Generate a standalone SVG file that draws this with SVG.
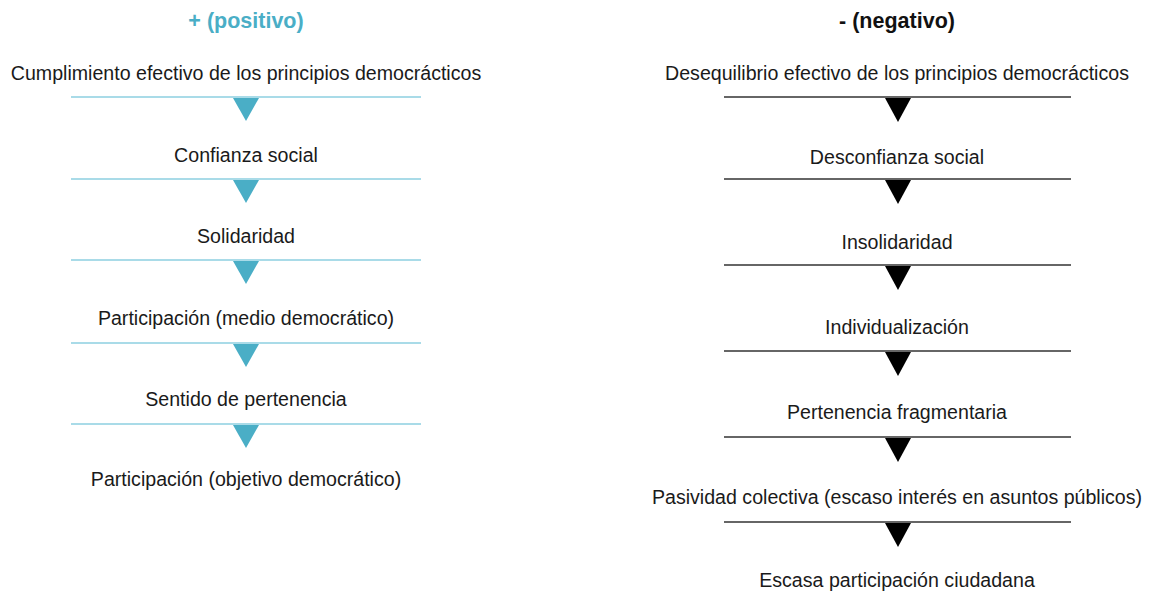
<svg xmlns="http://www.w3.org/2000/svg" width="1154" height="594" viewBox="0 0 1154 594">
<style>
text{font-family:"Liberation Sans",Arial,sans-serif;font-size:19.6px;fill:#1a1a1a;text-anchor:middle}
.hp{font-weight:bold;font-size:21.5px;fill:#4aaec6}
.hn{font-weight:bold;font-size:21.5px;fill:#111}
.lp{stroke:#8ccfe0;stroke-width:1.5}
.ln{stroke:#333;stroke-width:1.5}
.tp{fill:#4aaec6}
.tn{fill:#000}
</style>
<rect width="1154" height="594" fill="#fff"/>
<g id="headings">
<text class="hp" x="246" y="28">+ (positivo)</text>
<text class="hn" x="897" y="28">- (negativo)</text>
</g>
<g id="p1"><text x="246" y="80">Cumplimiento efectivo de los principios democrácticos</text></g>
<g id="p2"><text x="246" y="162">Confianza social</text></g>
<g id="p3"><text x="246" y="243">Solidaridad</text></g>
<g id="p4"><text x="246" y="325">Participación (medio democrático)</text></g>
<g id="p5"><text x="246" y="406">Sentido de pertenencia</text></g>
<g id="p6"><text x="246" y="486">Participación (objetivo democrático)</text></g>
<g id="n1"><text x="897" y="80">Desequilibrio efectivo de los principios democrácticos</text></g>
<g id="n2"><text x="897" y="164">Desconfianza social</text></g>
<g id="n3"><text x="897" y="249">Insolidaridad</text></g>
<g id="n4"><text x="897" y="334">Individualización</text></g>
<g id="n5"><text x="897" y="419">Pertenencia fragmentaria</text></g>
<g id="n6"><text x="897" y="504">Pasividad colectiva (escaso interés en asuntos públicos)</text></g>
<g id="n7"><text x="897" y="587">Escasa participación ciudadana</text></g>
<g id="connectors">
<line class="lp" x1="71" y1="97" x2="421" y2="97"/>
<line class="lp" x1="71" y1="179" x2="421" y2="179"/>
<line class="lp" x1="71" y1="260" x2="421" y2="260"/>
<line class="lp" x1="71" y1="343" x2="421" y2="343"/>
<line class="lp" x1="71" y1="424" x2="421" y2="424"/>
<polygon class="tp" points="233,98 259,98 246,121"/>
<polygon class="tp" points="233,180 259,180 246,203"/>
<polygon class="tp" points="233,261 259,261 246,284"/>
<polygon class="tp" points="233,344 259,344 246,367"/>
<polygon class="tp" points="233,425 259,425 246,448"/>
<line class="ln" x1="724" y1="97" x2="1071" y2="97"/>
<line class="ln" x1="724" y1="179" x2="1071" y2="179"/>
<line class="ln" x1="724" y1="265" x2="1071" y2="265"/>
<line class="ln" x1="724" y1="351" x2="1071" y2="351"/>
<line class="ln" x1="724" y1="437" x2="1071" y2="437"/>
<line class="ln" x1="724" y1="522" x2="1071" y2="522"/>
<polygon class="tn" points="885,98 911,98 898,122"/>
<polygon class="tn" points="885,180 911,180 898,204"/>
<polygon class="tn" points="885,266 911,266 898,290"/>
<polygon class="tn" points="885,352 911,352 898,376"/>
<polygon class="tn" points="885,438 911,438 898,462"/>
<polygon class="tn" points="885,523 911,523 898,547"/>
</g>
</svg>
